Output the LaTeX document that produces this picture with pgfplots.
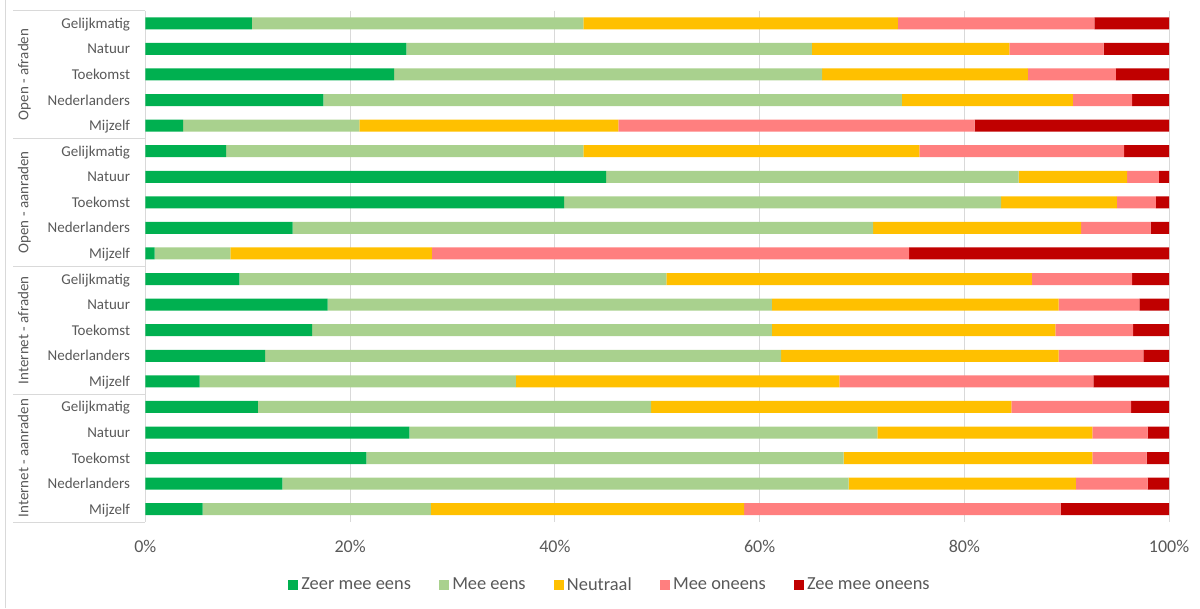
\documentclass[border=0pt]{standalone}
\usepackage{pgfplots}
\pgfplotsset{compat=1.18}
\usepackage{pgfplotstable}
\usepackage{fontspec}
\setmainfont{Carlito}
\definecolor{dkgreen}{HTML}{00B050}
\definecolor{ltgreen}{HTML}{A9D18E}
\definecolor{neutr}{HTML}{FFC000}
\definecolor{pinkc}{HTML}{FF7F7F}
\definecolor{dkred}{HTML}{C00000}
\definecolor{txt}{HTML}{595959}
\definecolor{gridc}{HTML}{D9D9D9}
\pgfplotstableread{
y a b c d e
0 10.4 32.4 30.7 19.2 7.3
1 25.5 39.6 19.3 9.2 6.4
2 24.3 41.8 20.1 8.6 5.2
3 17.4 56.5 16.7 5.8 3.6
4 3.7 17.2 25.3 34.8 19.0
5 7.9 34.9 32.8 20.0 4.4
6 45.0 40.3 10.6 3.1 1.0
7 40.9 42.7 11.3 3.8 1.3
8 14.4 56.7 20.3 6.8 1.8
9 0.9 7.4 19.7 46.6 25.4
10 9.2 41.7 35.7 9.8 3.6
11 17.8 43.4 28.0 7.9 2.9
12 16.3 44.9 27.7 7.6 3.5
13 11.7 50.4 27.1 8.3 2.5
14 5.3 30.9 31.6 24.8 7.4
15 11.0 38.4 35.2 11.7 3.7
16 25.8 45.7 21.0 5.4 2.1
17 21.6 46.6 24.3 5.3 2.2
18 13.4 55.3 22.2 7.0 2.1
19 5.6 22.3 30.6 30.9 10.6
}\data
\pgfplotsset{sq/.style={legend image code/.code={\fill[##1,draw=none] (0pt,-3.75pt) rectangle (7.5pt,3.75pt);}}}
\begin{document}
\begin{tikzpicture}
\useasboundingbox (-108.98pt,-64.5pt) rectangle (791pt,391.5pt);
\begin{axis}[
  at={(0,0)}, anchor=south west,
  scale only axis, width=767.8pt, height=383.6pt,
  xbar stacked, bar width=9pt,
  xmin=0, xmax=100, ymin=-0.5, ymax=19.5, y dir=reverse,
  xtick={0,20,40,60,80,100},
  xticklabel={\pgfmathprintnumber{\tick}\%},
  ytick={0,...,19},
  yticklabels={Gelijkmatig,Natuur,Toekomst,Nederlanders,Mijzelf,Gelijkmatig,Natuur,Toekomst,Nederlanders,Mijzelf,Gelijkmatig,Natuur,Toekomst,Nederlanders,Mijzelf,Gelijkmatig,Natuur,Toekomst,Nederlanders,Mijzelf},
  major tick length=0pt,
  xmajorgrids, grid style={draw=gridc, line width=0.75pt},
  axis x line*=bottom, axis y line*=left,
  x axis line style={draw=none},
  y axis line style={draw=gridc, line width=0.75pt},
  /pgf/number format/assume math mode=true,
  xticklabel style={font=\fontsize{13.5}{16}\selectfont, text=txt, anchor=base, yshift=-23.1pt},
  yticklabel style={font=\fontsize{11.25}{13}\selectfont, text=txt, anchor=base east, inner sep=0pt, xshift=-11.25pt, yshift=-3.75pt},
  legend style={at={(0.4544,-0.1232)}, anchor=center, draw=none, legend columns=-1,
    font=\fontsize{13.8}{16}\selectfont, text=txt, nodes={inner sep=2.5pt},
    /tikz/every even column/.append style={column sep=18.5pt}},
  legend cell align=left,
  clip=false,
]
\addplot[fill=dkgreen, draw=none, sq] table[x=a, y=y] {\data};
\addplot[fill=ltgreen, draw=none, sq] table[x=b, y=y] {\data};
\addplot[fill=neutr, draw=none, sq] table[x=c, y=y] {\data};
\addplot[fill=pinkc, draw=none, sq] table[x=d, y=y] {\data};
\addplot[fill=dkred, draw=none, sq] table[x=e, y=y] {\data};
\legend{Zeer mee eens, Mee eens, Neutraal, Mee oneens, Zee mee oneens}
\draw[gridc, line width=0.75pt] (axis cs:-12.92,-0.5) -- (axis cs:0,-0.5);
\draw[gridc, line width=0.75pt] (axis cs:-12.92,4.5) -- (axis cs:0,4.5);
\draw[gridc, line width=0.75pt] (axis cs:-12.92,9.5) -- (axis cs:0,9.5);
\draw[gridc, line width=0.75pt] (axis cs:-12.92,14.5) -- (axis cs:0,14.5);
\draw[gridc, line width=0.75pt] (axis cs:-12.92,19.5) -- (axis cs:0,19.5);
\node[rotate=90, anchor=base, font=\fontsize{11.25}{13}\selectfont, text=txt] at (axis cs:-11.41,2) {Open - afraden};
\node[rotate=90, anchor=base, font=\fontsize{11.25}{13}\selectfont, text=txt] at (axis cs:-11.41,7) {Open - aanraden};
\node[rotate=90, anchor=base, font=\fontsize{11.25}{13}\selectfont, text=txt] at (axis cs:-11.41,12) {Internet - afraden};
\node[rotate=90, anchor=base, font=\fontsize{11.25}{13}\selectfont, text=txt] at (axis cs:-11.41,17) {Internet - aanraden};
\end{axis}
\draw[gridc, line width=0.75pt] (-104.5pt,-64.5pt) -- (-104.5pt,391.5pt);
\end{tikzpicture}
\end{document}
